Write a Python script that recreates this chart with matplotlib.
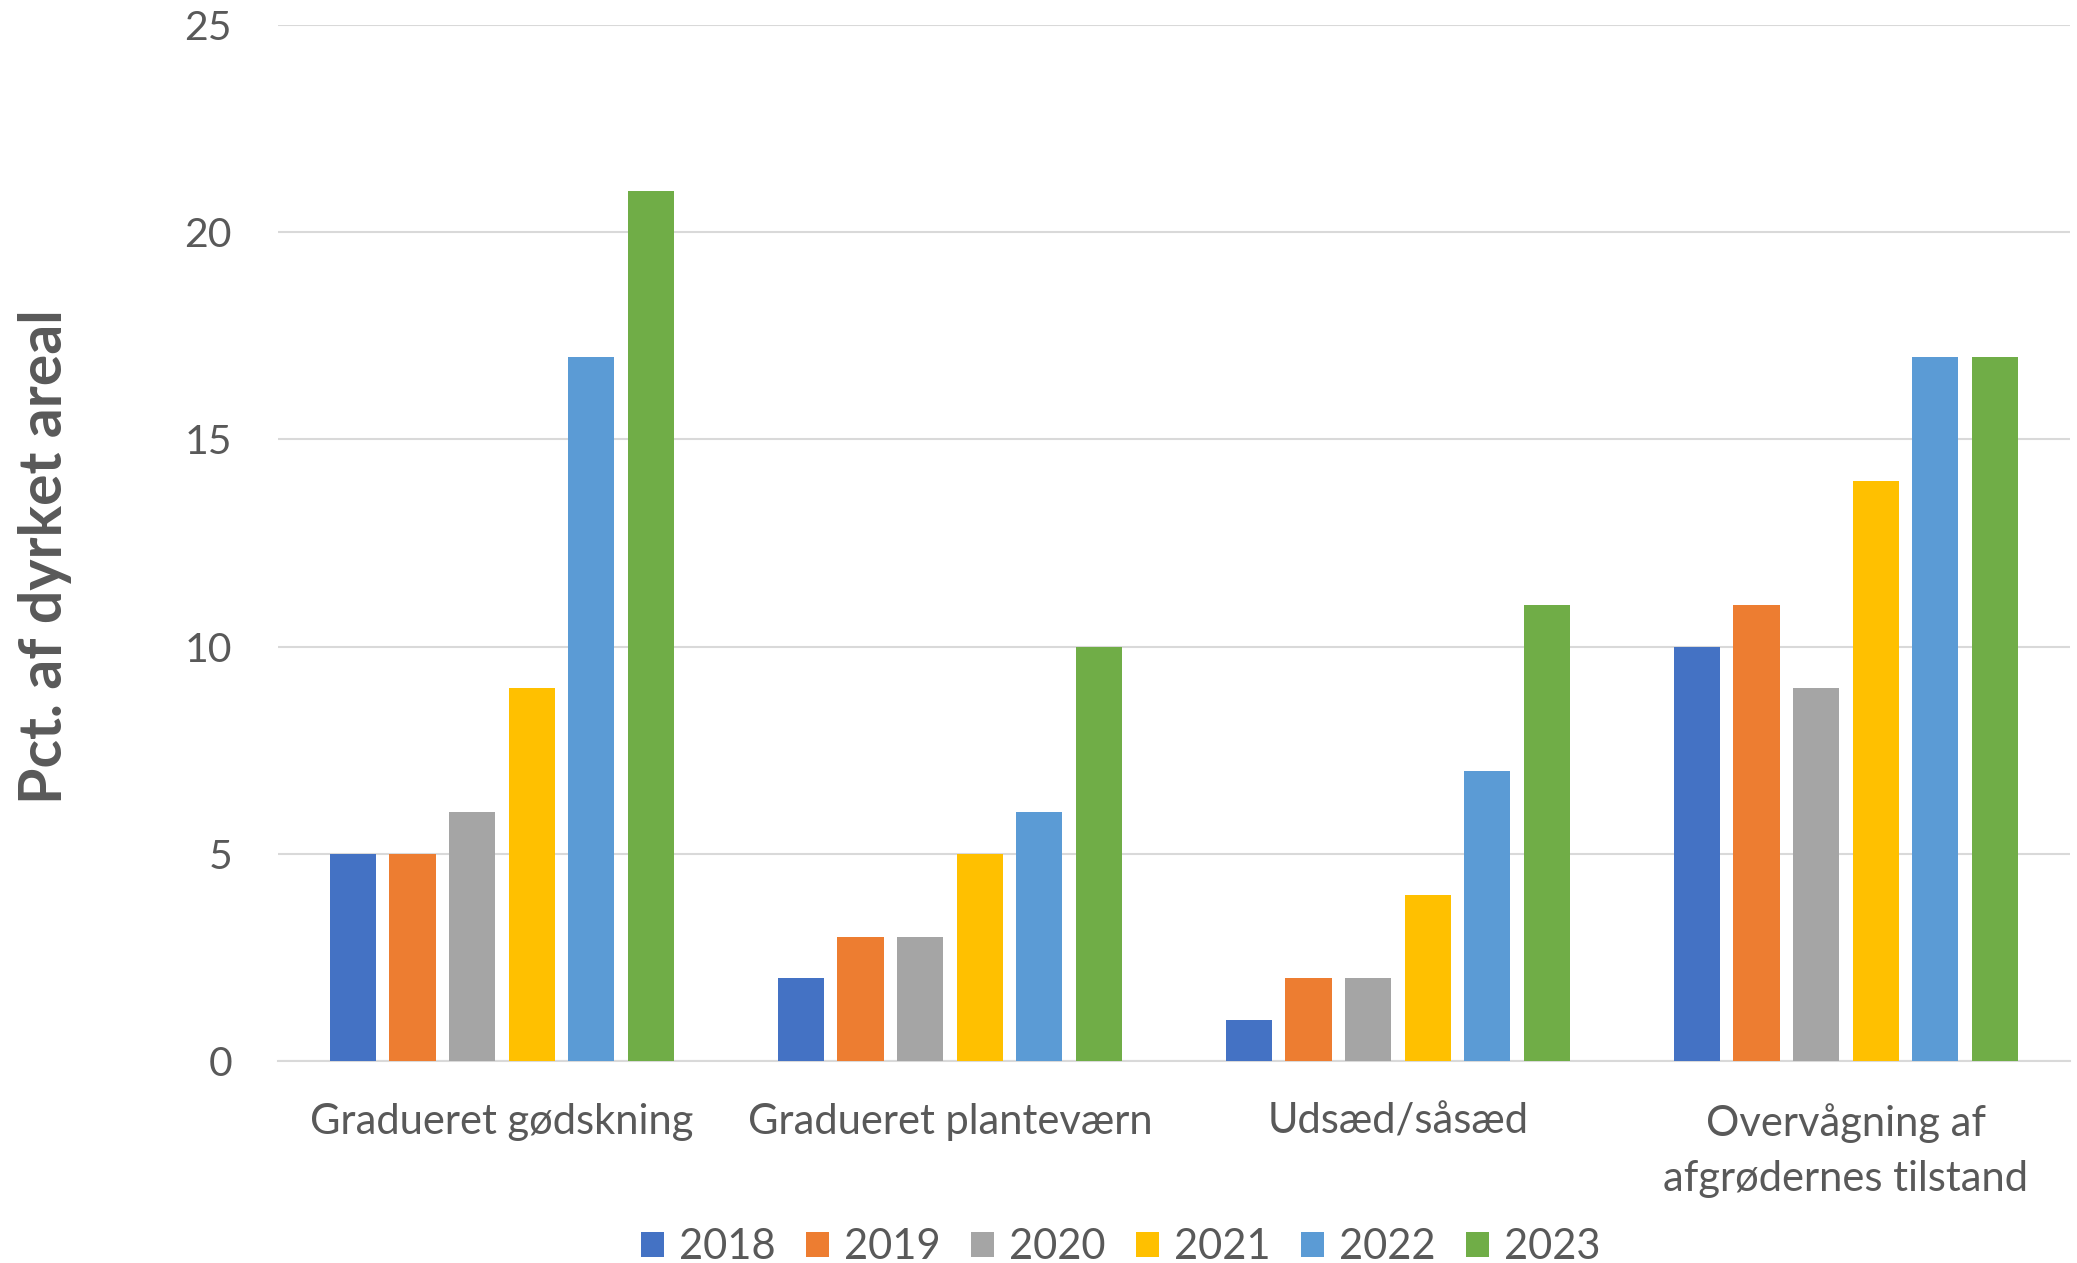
import matplotlib
matplotlib.use("Agg")
import matplotlib.pyplot as plt
import numpy as np

# Data: share of cultivated area using each precision-farming technology
categories = ["Gradueret gødskning", "Gradueret planteværn", "Udsæd/såsæd",
              "Overvågning af\nafgrødernes tilstand"]
years = ["2018", "2019", "2020", "2021", "2022", "2023"]
values_2018 = [5, 2, 1, 10]
values_2019 = [5, 3, 2, 11]
values_2020 = [6, 3, 2, 9]
values_2021 = [9, 5, 4, 14]
values_2022 = [17, 6, 7, 17]
values_2023 = [21, 10, 11, 17]
series = [values_2018, values_2019, values_2020, values_2021, values_2022, values_2023]
colors = ["#4472C4", "#ED7D31", "#A5A5A5", "#FFC000", "#5B9BD5", "#70AD47"]
y_ticks = [0, 5, 10, 15, 20, 25]

text_color = "#595959"
grid_color = "#D9D9D9"
plt.rcParams["font.family"] = ["Lato", "DejaVu Sans"]

fig = plt.figure(figsize=(20.77, 12.63), dpi=100)
ax = fig.add_axes([0.1338, 0.1599, 0.8628, 0.8203])

x = np.arange(len(categories))
step = 0.133
bar_w = 0.103
for i, (vals, col, yr) in enumerate(zip(series, colors, years)):
    ax.bar(x + (i - 2.5) * step, vals, width=bar_w, color=col, label=yr, zorder=3)

ax.set_xlim(-0.5, len(categories) - 0.5)
ax.set_ylim(0, 25)
ax.set_yticks(y_ticks)
ax.set_xticks(x)
ax.set_xticklabels(categories, linespacing=1.55)
ax.yaxis.grid(True, color=grid_color, linewidth=1.5, zorder=0)
ax.set_axisbelow(True)
for s in ["top", "right", "left"]:
    ax.spines[s].set_visible(False)
ax.spines["bottom"].set_color(grid_color)
ax.spines["bottom"].set_linewidth(1.5)
ax.tick_params(axis="y", length=0, labelsize=29.5, colors=text_color, pad=33)
ax.tick_params(axis="x", length=0, labelsize=30, colors=text_color, pad=30)

fig.text(0.0217, 0.559, "Pct. af dyrket areal", rotation=90, ha="center", va="center",
         fontsize=42.5, fontweight="bold", color=text_color)

leg = fig.legend(loc="center", bbox_to_anchor=(0.5396, 0.0125), ncol=6, frameon=False,
                 fontsize=30, handlelength=0.55, handleheight=0.55, handletextpad=0.37,
                 columnspacing=0.72, borderpad=0)
for t in leg.get_texts():
    t.set_color(text_color)

fig.savefig("out.png", dpi=100)
